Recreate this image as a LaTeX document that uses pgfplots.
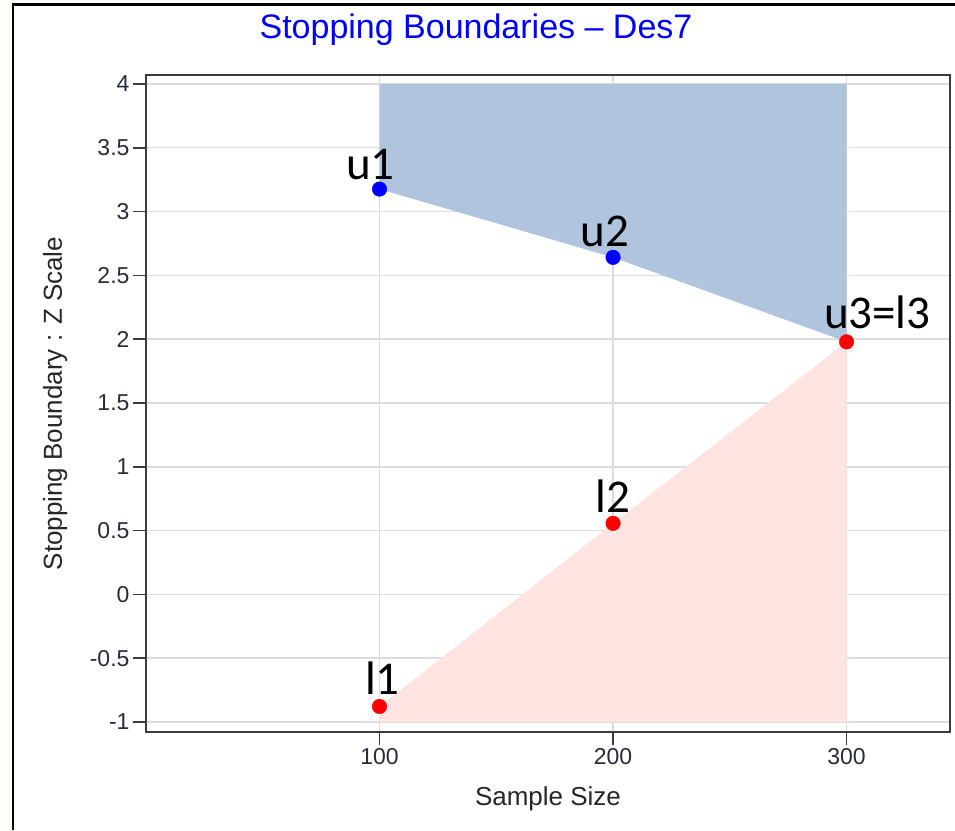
\documentclass[border=0pt]{standalone}
\usepackage{pgfplots}
\pgfplotsset{compat=1.18}
\usepackage{fontspec}
\setmainfont{Liberation Sans}
\newfontfamily\calfont{Carlito}
\definecolor{upfill}{HTML}{B0C4DE}
\definecolor{lofill}{HTML}{FFE4E1}
\definecolor{gridc}{HTML}{DCDCDC}
\definecolor{axc}{HTML}{3C3C3C}
\definecolor{cream}{HTML}{FFFDF7}
\definecolor{ticktext}{HTML}{2A2A3A}
\begin{document}
\begin{tikzpicture}[x=1pt,y=1pt]
\path[use as bounding box] (0pt,0pt) rectangle (955pt,830pt);
\fill[cream] (0pt,0pt) rectangle (12pt,830pt);
\fill[cream] (12pt,826pt) rectangle (955pt,830pt);
\draw[black, line width=2.2pt] (13pt,0pt) -- (13pt,825.5pt) -- (955pt,825.5pt);
\node[anchor=base, text=blue, font=\fontsize{34}{38}\selectfont] at (476pt,791pt) {Stopping Boundaries -- Des7};
\begin{axis}[
  at={(146pt,98pt)}, anchor=south west,
  width=804pt, height=657pt, scale only axis,
  xmin=0, xmax=344.3, ymin=-1.078, ymax=4.07,
  xtick={100,200,300}, xticklabels={100,200,300},
  ytick={-1,-0.5,0,0.5,1,1.5,2,2.5,3,3.5,4},
  yticklabels={-1,-0.5,0,0.5,1,1.5,2,2.5,3,3.5,4},
  tick align=outside, major tick length=13pt,
  tick style={axc, line width=1.6pt},
  axis line style={axc, line width=2pt},
  grid=major, major grid style={gridc, line width=1.5pt},
  ticklabel style={font=\fontsize{23}{26}\selectfont, text=ticktext},
  xtick pos=bottom, ytick pos=left,
  xlabel={Sample Size},
  ylabel={Stopping Boundary : Z Scale},
  label style={font=\fontsize{26}{30}\selectfont, text=black!85},
  xlabel style={at={(axis description cs:0.5,0)}, anchor=base, yshift=-73.7pt},
  ylabel style={at={(axis description cs:-0.1046,0.5)}, anchor=base},
  clip=false,
]
\addplot[draw=none, fill=upfill] coordinates {(100,4) (100,3.176) (200,2.641) (300,1.979) (300,4)} -- cycle;
\addplot[draw=none, fill=lofill] coordinates {(100,-1) (100,-0.878) (200,0.557) (300,1.979) (300,-1)} -- cycle;
\addplot[only marks, mark=*, mark size=7.3pt, color=blue, mark options={draw=blue, fill=blue}] coordinates {(100,3.176) (200,2.641)};
\addplot[only marks, mark=*, mark size=7.3pt, color=red, mark options={draw=red, fill=red}] coordinates {(300,1.979) (200,0.557) (100,-0.878)};
\node[anchor=base, font=\calfont\fontsize{47}{50}\selectfont, xshift=-9pt, yshift=10pt] at (axis cs:100,3.176) {u1};
\node[anchor=base, font=\calfont\fontsize{47}{50}\selectfont, xshift=-8pt, yshift=10.6pt] at (axis cs:200,2.641) {u2};
\node[anchor=base west, font=\calfont\fontsize{47}{50}\selectfont, xshift=-22.7pt, yshift=13pt, inner sep=0pt] at (axis cs:300,1.979) {u3=l3};
\node[anchor=base, font=\calfont\fontsize{47}{50}\selectfont, xshift=0pt, yshift=11pt] at (axis cs:200,0.557) {l2};
\node[anchor=base, font=\calfont\fontsize{47}{50}\selectfont, xshift=3pt, yshift=11.7pt] at (axis cs:100,-0.878) {l1};
\end{axis}
\end{tikzpicture}
\end{document}
